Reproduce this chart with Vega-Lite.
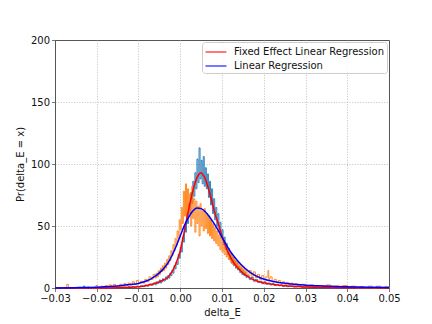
{
  "$schema": "https://vega.github.io/schema/vega-lite/v6.json",
  "width": 334,
  "height": 248,
  "autosize": {"type": "none"},
  "padding": {"left": 55, "top": 40, "right": 43, "bottom": 36},
  "background": "white",
  "config": {
    "font": "DejaVu Sans",
    "view": {"stroke": "#555555", "strokeWidth": 1},
    "axis": {
      "labelFont": "DejaVu Sans", "labelFontSize": 10, "labelColor": "#111111",
      "titleFont": "DejaVu Sans", "titleFontSize": 10, "titleFontWeight": "normal", "titleColor": "#111111",
      "domainColor": "#555555", "tickColor": "#555555", "tickSize": 3.5, "tickWidth": 0.8,
      "gridColor": "#b0b0b0", "gridDash": [1, 1.65], "gridWidth": 0.8,
      "labelFlush": false, "labelOverlap": false, "labelPadding": 2
    },
    "legend": {
      "orient": "top-right", "offset": 2, "fillColor": "rgba(255,255,255,0.8)", "strokeColor": "#cccccc",
      "cornerRadius": 3, "padding": 2, "symbolType": "M-1.5,0H1.5", "symbolSize": 196, "symbolStrokeWidth": 1.5,
      "symbolOffset": 4, "labelOffset": 10,
      "labelFontSize": 10, "labelFont": "DejaVu Sans", "labelColor": "#111111", "rowPadding": 1, "symbolOpacity": 0.7
    }
  },
  "datasets": {
    "hist": [
      {"s":"fe","x":-0.03,"y":0},{"s":"fe","x":-0.0232,"y":1.5},{"s":"fe","x":-0.0228,"y":0},
      {"s":"fe","x":-0.015,"y":0},{"s":"fe","x":-0.0145,"y":0.5},{"s":"fe","x":-0.014,"y":0},{"s":"fe","x":-0.0135,"y":0.8},
      {"s":"fe","x":-0.013,"y":0.3},{"s":"fe","x":-0.0125,"y":1},{"s":"fe","x":-0.012,"y":0.5},{"s":"fe","x":-0.0115,"y":1.2},
      {"s":"fe","x":-0.011,"y":0.6},{"s":"fe","x":-0.0105,"y":1.5},{"s":"fe","x":-0.01,"y":0.8},{"s":"fe","x":-0.0095,"y":1.8},
      {"s":"fe","x":-0.009,"y":1.1},{"s":"fe","x":-0.0085,"y":2.4},{"s":"fe","x":-0.008,"y":1.5},{"s":"fe","x":-0.0075,"y":3.2},
      {"s":"fe","x":-0.007,"y":2.2},{"s":"fe","x":-0.0065,"y":4},
      {"s":"fe","x":-0.006,"y":2.5},{"s":"fe","x":-0.00575,"y":5},{"s":"fe","x":-0.0055,"y":3.5},{"s":"fe","x":-0.00525,"y":4},
      {"s":"fe","x":-0.005,"y":6.5},{"s":"fe","x":-0.00475,"y":4},{"s":"fe","x":-0.0045,"y":5},{"s":"fe","x":-0.00425,"y":7.5},
      {"s":"fe","x":-0.004,"y":5.5},{"s":"fe","x":-0.00375,"y":6},{"s":"fe","x":-0.0035,"y":9},{"s":"fe","x":-0.00325,"y":7},
      {"s":"fe","x":-0.003,"y":10},{"s":"fe","x":-0.00275,"y":8},{"s":"fe","x":-0.0025,"y":12},{"s":"fe","x":-0.00225,"y":10},
      {"s":"fe","x":-0.002,"y":14.5},{"s":"fe","x":-0.00175,"y":12},{"s":"fe","x":-0.0015,"y":18},{"s":"fe","x":-0.00125,"y":15.5},
      {"s":"fe","x":-0.001,"y":21},{"s":"fe","x":-0.00075,"y":19},{"s":"fe","x":-0.0005,"y":27},{"s":"fe","x":-0.00025,"y":24},
      {"s":"fe","x":0,"y":33},{"s":"fe","x":0.00025,"y":29},{"s":"fe","x":0.0005,"y":41},{"s":"fe","x":0.00075,"y":37},
      {"s":"fe","x":0.001,"y":50},{"s":"fe","x":0.00125,"y":45},{"s":"fe","x":0.0015,"y":60},{"s":"fe","x":0.00175,"y":52},
      {"s":"fe","x":0.002,"y":68},{"s":"fe","x":0.00225,"y":60},{"s":"fe","x":0.0025,"y":77},{"s":"fe","x":0.00275,"y":68},
      {"s":"fe","x":0.003,"y":86},{"s":"fe","x":0.00325,"y":74},{"s":"fe","x":0.0035,"y":93},{"s":"fe","x":0.00375,"y":80},
      {"s":"fe","x":0.004,"y":104},{"s":"fe","x":0.00425,"y":85},{"s":"fe","x":0.0045,"y":113},{"s":"fe","x":0.00475,"y":88},
      {"s":"fe","x":0.005,"y":103},{"s":"fe","x":0.00525,"y":84},{"s":"fe","x":0.0055,"y":106},{"s":"fe","x":0.00575,"y":82},
      {"s":"fe","x":0.006,"y":97},{"s":"fe","x":0.00625,"y":80},{"s":"fe","x":0.0065,"y":92},{"s":"fe","x":0.00675,"y":73},
      {"s":"fe","x":0.007,"y":86},{"s":"fe","x":0.00725,"y":67},{"s":"fe","x":0.0075,"y":80},{"s":"fe","x":0.00775,"y":60},
      {"s":"fe","x":0.008,"y":72},{"s":"fe","x":0.00825,"y":55},{"s":"fe","x":0.0085,"y":65},{"s":"fe","x":0.00875,"y":50},
      {"s":"fe","x":0.009,"y":60},{"s":"fe","x":0.00925,"y":45},{"s":"fe","x":0.0095,"y":53},{"s":"fe","x":0.00975,"y":40},
      {"s":"fe","x":0.01,"y":47},{"s":"fe","x":0.01025,"y":35},{"s":"fe","x":0.0105,"y":41},{"s":"fe","x":0.01075,"y":31},
      {"s":"fe","x":0.011,"y":36},{"s":"fe","x":0.01125,"y":27},{"s":"fe","x":0.0115,"y":32},{"s":"fe","x":0.01175,"y":23},
      {"s":"fe","x":0.012,"y":28},{"s":"fe","x":0.01225,"y":20},{"s":"fe","x":0.0125,"y":25},{"s":"fe","x":0.01275,"y":18},
      {"s":"fe","x":0.013,"y":22},{"s":"fe","x":0.01325,"y":16},{"s":"fe","x":0.0135,"y":20},{"s":"fe","x":0.01375,"y":14.5},
      {"s":"fe","x":0.014,"y":17.5},{"s":"fe","x":0.01425,"y":12.5},{"s":"fe","x":0.0145,"y":16},{"s":"fe","x":0.01475,"y":11},
      {"s":"fe","x":0.015,"y":14},{"s":"fe","x":0.01525,"y":10},{"s":"fe","x":0.0155,"y":12.5},{"s":"fe","x":0.01575,"y":8.5},
      {"s":"fe","x":0.016,"y":10},{"s":"fe","x":0.0165,"y":7},{"s":"fe","x":0.017,"y":8.5},{"s":"fe","x":0.0175,"y":5.5},
      {"s":"fe","x":0.018,"y":7},{"s":"fe","x":0.0185,"y":4.5},{"s":"fe","x":0.019,"y":5.5},{"s":"fe","x":0.0195,"y":3.5},
      {"s":"fe","x":0.02,"y":5},{"s":"fe","x":0.0205,"y":3},{"s":"fe","x":0.021,"y":4},{"s":"fe","x":0.0215,"y":2.5},
      {"s":"fe","x":0.022,"y":3.5},{"s":"fe","x":0.0225,"y":2},{"s":"fe","x":0.023,"y":3},{"s":"fe","x":0.0235,"y":1.8},
      {"s":"fe","x":0.024,"y":2.5},{"s":"fe","x":0.0245,"y":1.2},{"s":"fe","x":0.025,"y":2},{"s":"fe","x":0.0255,"y":1},
      {"s":"fe","x":0.026,"y":1.5},{"s":"fe","x":0.027,"y":0.8},{"s":"fe","x":0.028,"y":1.2},
      {"s":"fe","x":0.029,"y":0.5},{"s":"fe","x":0.03,"y":0.8},{"s":"fe","x":0.032,"y":0.3},{"s":"fe","x":0.034,"y":0.6},
      {"s":"fe","x":0.036,"y":0},{"s":"fe","x":0.05,"y":0},

      {"s":"lr","x":-0.03,"y":0},{"s":"lr","x":-0.0272,"y":3},{"s":"lr","x":-0.0268,"y":0},{"s":"lr","x":-0.0222,"y":1},
      {"s":"lr","x":-0.0218,"y":0},{"s":"lr","x":-0.0202,"y":2},{"s":"lr","x":-0.0198,"y":0.5},{"s":"lr","x":-0.019,"y":1.5},
      {"s":"lr","x":-0.0185,"y":0.5},{"s":"lr","x":-0.018,"y":2},{"s":"lr","x":-0.0175,"y":1},{"s":"lr","x":-0.017,"y":2.5},
      {"s":"lr","x":-0.0165,"y":1},{"s":"lr","x":-0.016,"y":3},{"s":"lr","x":-0.0155,"y":1.5},
      {"s":"lr","x":-0.015,"y":1},{"s":"lr","x":-0.0145,"y":3},{"s":"lr","x":-0.014,"y":1.5},{"s":"lr","x":-0.0135,"y":3.5},
      {"s":"lr","x":-0.013,"y":2},{"s":"lr","x":-0.0125,"y":4},{"s":"lr","x":-0.012,"y":2.5},{"s":"lr","x":-0.0115,"y":5},
      {"s":"lr","x":-0.011,"y":3},{"s":"lr","x":-0.0105,"y":6},{"s":"lr","x":-0.01,"y":4},{"s":"lr","x":-0.0095,"y":5.5},
      {"s":"lr","x":-0.009,"y":4},{"s":"lr","x":-0.0085,"y":7},{"s":"lr","x":-0.008,"y":5},{"s":"lr","x":-0.0075,"y":9},
      {"s":"lr","x":-0.007,"y":7},{"s":"lr","x":-0.0065,"y":11},
      {"s":"lr","x":-0.006,"y":8},{"s":"lr","x":-0.00575,"y":12},{"s":"lr","x":-0.0055,"y":9},{"s":"lr","x":-0.00525,"y":14},
      {"s":"lr","x":-0.005,"y":11},{"s":"lr","x":-0.00475,"y":16},{"s":"lr","x":-0.0045,"y":13},{"s":"lr","x":-0.00425,"y":18},
      {"s":"lr","x":-0.004,"y":14},{"s":"lr","x":-0.00375,"y":20},{"s":"lr","x":-0.0035,"y":16},{"s":"lr","x":-0.00325,"y":23},
      {"s":"lr","x":-0.003,"y":19},{"s":"lr","x":-0.00275,"y":26},{"s":"lr","x":-0.0025,"y":22},{"s":"lr","x":-0.00225,"y":30},
      {"s":"lr","x":-0.002,"y":26},{"s":"lr","x":-0.00175,"y":35},{"s":"lr","x":-0.0015,"y":30},{"s":"lr","x":-0.00125,"y":40},
      {"s":"lr","x":-0.001,"y":34},{"s":"lr","x":-0.00075,"y":46},{"s":"lr","x":-0.0005,"y":40},{"s":"lr","x":-0.00025,"y":55},
      {"s":"lr","x":0,"y":47},{"s":"lr","x":0.00025,"y":65},{"s":"lr","x":0.0005,"y":52},{"s":"lr","x":0.00075,"y":78},
      {"s":"lr","x":0.001,"y":58},{"s":"lr","x":0.00125,"y":84},{"s":"lr","x":0.0015,"y":55},{"s":"lr","x":0.00175,"y":80},
      {"s":"lr","x":0.002,"y":60},{"s":"lr","x":0.00225,"y":76},{"s":"lr","x":0.0025,"y":50},{"s":"lr","x":0.00275,"y":82},
      {"s":"lr","x":0.003,"y":56},{"s":"lr","x":0.00325,"y":72},{"s":"lr","x":0.0035,"y":45},{"s":"lr","x":0.00375,"y":70},
      {"s":"lr","x":0.004,"y":52},{"s":"lr","x":0.00425,"y":66},{"s":"lr","x":0.0045,"y":42},{"s":"lr","x":0.00475,"y":68},
      {"s":"lr","x":0.005,"y":50},{"s":"lr","x":0.00525,"y":62},{"s":"lr","x":0.0055,"y":46},{"s":"lr","x":0.00575,"y":64},
      {"s":"lr","x":0.006,"y":48},{"s":"lr","x":0.00625,"y":60},{"s":"lr","x":0.0065,"y":44},{"s":"lr","x":0.00675,"y":58},
      {"s":"lr","x":0.007,"y":42},{"s":"lr","x":0.00725,"y":55},{"s":"lr","x":0.0075,"y":40},{"s":"lr","x":0.00775,"y":52},
      {"s":"lr","x":0.008,"y":38},{"s":"lr","x":0.00825,"y":49},{"s":"lr","x":0.0085,"y":36},{"s":"lr","x":0.00875,"y":46},
      {"s":"lr","x":0.009,"y":34},{"s":"lr","x":0.00925,"y":43},{"s":"lr","x":0.0095,"y":31},{"s":"lr","x":0.00975,"y":40},
      {"s":"lr","x":0.01,"y":29},{"s":"lr","x":0.01025,"y":37},{"s":"lr","x":0.0105,"y":27},{"s":"lr","x":0.01075,"y":34},
      {"s":"lr","x":0.011,"y":25},{"s":"lr","x":0.01125,"y":31},{"s":"lr","x":0.0115,"y":23},{"s":"lr","x":0.01175,"y":29},
      {"s":"lr","x":0.012,"y":21},{"s":"lr","x":0.01225,"y":27},{"s":"lr","x":0.0125,"y":19},{"s":"lr","x":0.01275,"y":25},
      {"s":"lr","x":0.013,"y":18},{"s":"lr","x":0.01325,"y":22},{"s":"lr","x":0.0135,"y":16},{"s":"lr","x":0.01375,"y":21},
      {"s":"lr","x":0.014,"y":15},{"s":"lr","x":0.01425,"y":19},{"s":"lr","x":0.0145,"y":13.5},{"s":"lr","x":0.01475,"y":17.5},
      {"s":"lr","x":0.015,"y":12.5},{"s":"lr","x":0.01525,"y":16},{"s":"lr","x":0.0155,"y":11.5},{"s":"lr","x":0.01575,"y":15},
      {"s":"lr","x":0.016,"y":10.5},{"s":"lr","x":0.0165,"y":14},{"s":"lr","x":0.017,"y":9.5},{"s":"lr","x":0.0175,"y":13},
      {"s":"lr","x":0.018,"y":8.5},{"s":"lr","x":0.0185,"y":11},{"s":"lr","x":0.019,"y":7},{"s":"lr","x":0.0195,"y":10},
      {"s":"lr","x":0.02,"y":6.5},{"s":"lr","x":0.0205,"y":9},{"s":"lr","x":0.021,"y":14},{"s":"lr","x":0.0212,"y":7},
      {"s":"lr","x":0.0215,"y":9},{"s":"lr","x":0.022,"y":5},{"s":"lr","x":0.0225,"y":7},{"s":"lr","x":0.023,"y":4.5},
      {"s":"lr","x":0.0235,"y":6},{"s":"lr","x":0.024,"y":4},{"s":"lr","x":0.0245,"y":5},{"s":"lr","x":0.025,"y":3},
      {"s":"lr","x":0.0255,"y":4.5},{"s":"lr","x":0.026,"y":3},{"s":"lr","x":0.0265,"y":4},{"s":"lr","x":0.027,"y":2.5},
      {"s":"lr","x":0.0275,"y":3.5},{"s":"lr","x":0.028,"y":2},{"s":"lr","x":0.029,"y":3},
      {"s":"lr","x":0.03,"y":1.5},{"s":"lr","x":0.031,"y":2.5},{"s":"lr","x":0.032,"y":1},{"s":"lr","x":0.033,"y":2},
      {"s":"lr","x":0.034,"y":1},{"s":"lr","x":0.035,"y":2.5},{"s":"lr","x":0.036,"y":0.5},{"s":"lr","x":0.037,"y":1.5},
      {"s":"lr","x":0.038,"y":0.5},{"s":"lr","x":0.039,"y":2},{"s":"lr","x":0.04,"y":0.5},{"s":"lr","x":0.041,"y":1.5},
      {"s":"lr","x":0.042,"y":0.3},{"s":"lr","x":0.043,"y":1.2},{"s":"lr","x":0.044,"y":0.3},{"s":"lr","x":0.045,"y":1.5},
      {"s":"lr","x":0.046,"y":0.2},{"s":"lr","x":0.047,"y":1.5},{"s":"lr","x":0.048,"y":0.2},{"s":"lr","x":0.049,"y":1},
      {"s":"lr","x":0.05,"y":0}
    ],
    "curve": [
      {"m":"Fixed Effect Linear Regression","x":-0.03,"y":0.02},{"m":"Fixed Effect Linear Regression","x":-0.025,"y":0.05},
      {"m":"Fixed Effect Linear Regression","x":-0.02,"y":0.1},{"m":"Fixed Effect Linear Regression","x":-0.015,"y":0.3},
      {"m":"Fixed Effect Linear Regression","x":-0.012,"y":0.6},{"m":"Fixed Effect Linear Regression","x":-0.011,"y":0.8},
      {"m":"Fixed Effect Linear Regression","x":-0.01,"y":1.0},{"m":"Fixed Effect Linear Regression","x":-0.009,"y":1.4},
      {"m":"Fixed Effect Linear Regression","x":-0.008,"y":2},{"m":"Fixed Effect Linear Regression","x":-0.007,"y":2.8},
      {"m":"Fixed Effect Linear Regression","x":-0.006,"y":3.8},{"m":"Fixed Effect Linear Regression","x":-0.005,"y":5},
      {"m":"Fixed Effect Linear Regression","x":-0.004,"y":6.5},{"m":"Fixed Effect Linear Regression","x":-0.003,"y":8.5},
      {"m":"Fixed Effect Linear Regression","x":-0.002,"y":13},{"m":"Fixed Effect Linear Regression","x":-0.001,"y":20},
      {"m":"Fixed Effect Linear Regression","x":0,"y":30},{"m":"Fixed Effect Linear Regression","x":0.0005,"y":38},
      {"m":"Fixed Effect Linear Regression","x":0.001,"y":46},{"m":"Fixed Effect Linear Regression","x":0.0015,"y":55},
      {"m":"Fixed Effect Linear Regression","x":0.002,"y":63},{"m":"Fixed Effect Linear Regression","x":0.0025,"y":71},
      {"m":"Fixed Effect Linear Regression","x":0.003,"y":78},{"m":"Fixed Effect Linear Regression","x":0.0035,"y":84},
      {"m":"Fixed Effect Linear Regression","x":0.004,"y":89},{"m":"Fixed Effect Linear Regression","x":0.0045,"y":92},
      {"m":"Fixed Effect Linear Regression","x":0.005,"y":93},{"m":"Fixed Effect Linear Regression","x":0.0055,"y":91},
      {"m":"Fixed Effect Linear Regression","x":0.006,"y":88},{"m":"Fixed Effect Linear Regression","x":0.0065,"y":83},
      {"m":"Fixed Effect Linear Regression","x":0.007,"y":77},{"m":"Fixed Effect Linear Regression","x":0.0075,"y":71},
      {"m":"Fixed Effect Linear Regression","x":0.008,"y":64},{"m":"Fixed Effect Linear Regression","x":0.0085,"y":58},
      {"m":"Fixed Effect Linear Regression","x":0.009,"y":53},{"m":"Fixed Effect Linear Regression","x":0.0095,"y":47.5},
      {"m":"Fixed Effect Linear Regression","x":0.01,"y":42},{"m":"Fixed Effect Linear Regression","x":0.0105,"y":37},
      {"m":"Fixed Effect Linear Regression","x":0.011,"y":32.5},{"m":"Fixed Effect Linear Regression","x":0.0115,"y":28.5},
      {"m":"Fixed Effect Linear Regression","x":0.012,"y":25},{"m":"Fixed Effect Linear Regression","x":0.0125,"y":22},
      {"m":"Fixed Effect Linear Regression","x":0.013,"y":19.5},{"m":"Fixed Effect Linear Regression","x":0.014,"y":15.5},
      {"m":"Fixed Effect Linear Regression","x":0.015,"y":12},{"m":"Fixed Effect Linear Regression","x":0.016,"y":9.5},
      {"m":"Fixed Effect Linear Regression","x":0.017,"y":7.5},{"m":"Fixed Effect Linear Regression","x":0.018,"y":6},
      {"m":"Fixed Effect Linear Regression","x":0.019,"y":5},{"m":"Fixed Effect Linear Regression","x":0.02,"y":4.2},
      {"m":"Fixed Effect Linear Regression","x":0.022,"y":3},{"m":"Fixed Effect Linear Regression","x":0.024,"y":2.2},
      {"m":"Fixed Effect Linear Regression","x":0.026,"y":1.6},{"m":"Fixed Effect Linear Regression","x":0.028,"y":1.2},
      {"m":"Fixed Effect Linear Regression","x":0.03,"y":0.9},{"m":"Fixed Effect Linear Regression","x":0.035,"y":0.5},
      {"m":"Fixed Effect Linear Regression","x":0.04,"y":0.3},{"m":"Fixed Effect Linear Regression","x":0.05,"y":0.1},

      {"m":"Linear Regression","x":-0.03,"y":0.1},{"m":"Linear Regression","x":-0.025,"y":0.3},
      {"m":"Linear Regression","x":-0.02,"y":0.7},{"m":"Linear Regression","x":-0.018,"y":1},
      {"m":"Linear Regression","x":-0.016,"y":1.4},{"m":"Linear Regression","x":-0.014,"y":2},
      {"m":"Linear Regression","x":-0.012,"y":2.8},{"m":"Linear Regression","x":-0.01,"y":3.7},
      {"m":"Linear Regression","x":-0.009,"y":4.6},{"m":"Linear Regression","x":-0.008,"y":5.8},
      {"m":"Linear Regression","x":-0.007,"y":7.4},{"m":"Linear Regression","x":-0.006,"y":9.5},
      {"m":"Linear Regression","x":-0.005,"y":12.2},{"m":"Linear Regression","x":-0.004,"y":15.5},
      {"m":"Linear Regression","x":-0.003,"y":19.8},{"m":"Linear Regression","x":-0.002,"y":26},
      {"m":"Linear Regression","x":-0.001,"y":33.5},{"m":"Linear Regression","x":0,"y":42},
      {"m":"Linear Regression","x":0.001,"y":50.5},{"m":"Linear Regression","x":0.002,"y":57},
      {"m":"Linear Regression","x":0.003,"y":62},{"m":"Linear Regression","x":0.004,"y":64.5},
      {"m":"Linear Regression","x":0.005,"y":64},{"m":"Linear Regression","x":0.006,"y":61.5},
      {"m":"Linear Regression","x":0.007,"y":57.5},{"m":"Linear Regression","x":0.008,"y":52.5},
      {"m":"Linear Regression","x":0.009,"y":47},{"m":"Linear Regression","x":0.01,"y":41},
      {"m":"Linear Regression","x":0.011,"y":35},{"m":"Linear Regression","x":0.012,"y":29.5},
      {"m":"Linear Regression","x":0.013,"y":25},{"m":"Linear Regression","x":0.014,"y":21},
      {"m":"Linear Regression","x":0.015,"y":17.5},{"m":"Linear Regression","x":0.016,"y":14.5},
      {"m":"Linear Regression","x":0.017,"y":12},{"m":"Linear Regression","x":0.018,"y":10},
      {"m":"Linear Regression","x":0.019,"y":8.5},{"m":"Linear Regression","x":0.02,"y":7.2},
      {"m":"Linear Regression","x":0.022,"y":5.5},{"m":"Linear Regression","x":0.024,"y":4.3},
      {"m":"Linear Regression","x":0.026,"y":3.5},{"m":"Linear Regression","x":0.028,"y":2.8},
      {"m":"Linear Regression","x":0.03,"y":2.3},{"m":"Linear Regression","x":0.033,"y":1.8},
      {"m":"Linear Regression","x":0.036,"y":1.4},{"m":"Linear Regression","x":0.04,"y":1.0},
      {"m":"Linear Regression","x":0.045,"y":0.7},{"m":"Linear Regression","x":0.05,"y":0.5}
    ]
  },
  "layer": [
    {
      "data": {"name": "hist"},
      "transform": [{"filter": "datum.s == 'fe'"}],
      "mark": {"type": "line", "interpolate": "step-after", "color": "#1f77b4", "strokeWidth": 1, "opacity": 0.9},
      "encoding": {
        "x": {"field": "x", "type": "quantitative", "scale": {"domain": [-0.03, 0.05], "nice": false, "zero": false},
              "axis": {"values": [-0.03, -0.02, -0.01, 0, 0.01, 0.02, 0.03, 0.04, 0.05], "format": ".2f", "title": "delta_E", "titlePadding": 4,
                       "gridOpacity": {"condition": {"test": "datum.value <= -0.0299 || datum.value >= 0.0499", "value": 0}, "value": 1}}},
        "y": {"field": "y", "type": "quantitative", "scale": {"domain": [0, 200], "nice": false},
              "axis": {"values": [0, 25, 50, 75, 100, 125, 150, 175, 200], "title": "Pr(delta_E = x)", "titlePadding": 5,
                       "gridOpacity": {"condition": {"test": "datum.value == 0 || datum.value == 200", "value": 0}, "value": 1}}}
      }
    },
    {
      "data": {"name": "hist"},
      "transform": [{"filter": "datum.s == 'lr'"}],
      "mark": {"type": "line", "interpolate": "step-after", "color": "#ff7f0e", "strokeWidth": 1, "opacity": 0.9},
      "encoding": {
        "x": {"field": "x", "type": "quantitative"},
        "y": {"field": "y", "type": "quantitative"}
      }
    },
    {
      "data": {"name": "curve"},
      "mark": {"type": "line", "interpolate": "monotone", "strokeWidth": 1.5},
      "encoding": {
        "x": {"field": "x", "type": "quantitative"},
        "y": {"field": "y", "type": "quantitative"},
        "color": {"field": "m", "type": "nominal",
                  "scale": {"domain": ["Fixed Effect Linear Regression", "Linear Regression"], "range": ["#ff0000", "#0000ff"]},
                  "legend": {"title": null}}
      }
    }
  ]
}
